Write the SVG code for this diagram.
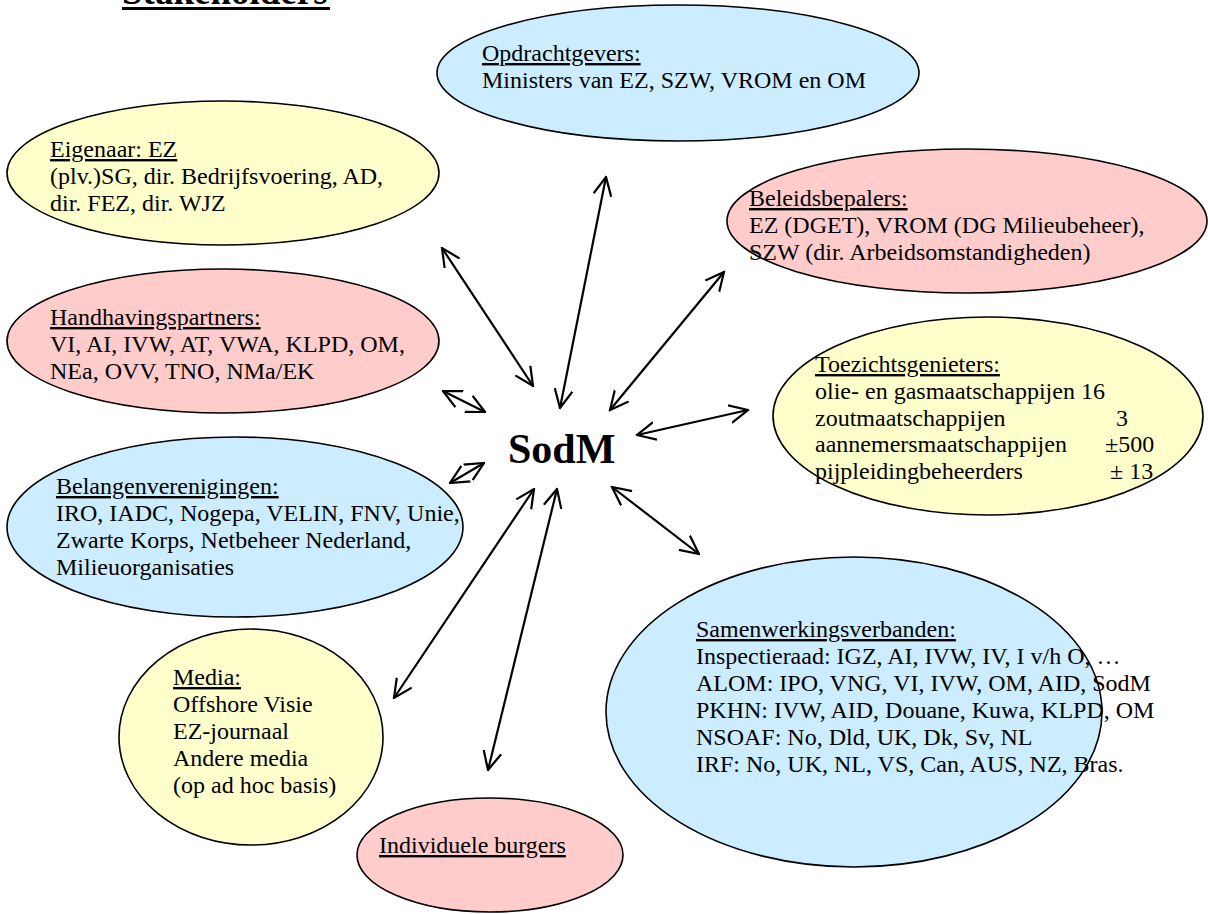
<svg xmlns="http://www.w3.org/2000/svg" width="1208" height="914" viewBox="0 0 1208 914">
<style>
text{font-family:"Liberation Serif","Times New Roman",serif;font-size:24px;fill:#000}
.u{text-decoration:underline}
.e{stroke:#000;stroke-width:1.6}
.blue{fill:#CCECFF}.yellow{fill:#FFFFCC}.pink{fill:#FFCCCC}
.c line{stroke:#000;stroke-width:2.2;marker-start:url(#ah);marker-end:url(#ah)}
</style>
<defs>
<marker id="ah" viewBox="0 0 20 20" refX="18.5" refY="10" markerWidth="20" markerHeight="20" markerUnits="userSpaceOnUse" orient="auto-start-reverse">
<path d="M0,1 L18.5,10 L0,19" fill="none" stroke="#000" stroke-width="2.2"/>
</marker>
</defs>
<rect width="1208" height="914" fill="#fff"/>
<g id="title">
<text x="122" y="4" style="font-size:37px;font-weight:bold">Stakeholders</text>
<rect x="122" y="7" width="208" height="3" fill="#000"/>
</g>
<g id="sodm"><text x="508" y="463" style="font-size:42px;font-weight:bold">SodM</text></g>
<g id="opdrachtgevers">
<ellipse class="e blue" cx="678" cy="73" rx="241" ry="68"/>
<text x="482" y="61" class="u">Opdrachtgevers:</text>
<text x="482" y="88">Ministers van EZ, SZW, VROM en OM</text>
</g>
<g id="eigenaar">
<ellipse class="e yellow" cx="223" cy="173" rx="216" ry="72"/>
<text x="50" y="157" class="u">Eigenaar: EZ</text>
<text x="50" y="184">(plv.)SG, dir. Bedrijfsvoering, AD,</text>
<text x="50" y="211">dir. FEZ, dir. WJZ</text>
</g>
<g id="handhavingspartners">
<ellipse class="e pink" cx="223" cy="341" rx="216" ry="72"/>
<text x="50" y="325" class="u">Handhavingspartners:</text>
<text x="50" y="352">VI, AI, IVW, AT, VWA, KLPD, OM,</text>
<text x="50" y="379">NEa, OVV, TNO, NMa/EK</text>
</g>
<g id="belangenverenigingen">
<ellipse class="e blue" cx="235" cy="527" rx="228" ry="90"/>
<text x="56" y="494" class="u">Belangenverenigingen:</text>
<text x="56" y="521">IRO, IADC, Nogepa, VELIN, FNV, Unie,</text>
<text x="56" y="548">Zwarte Korps, Netbeheer Nederland,</text>
<text x="56" y="575">Milieuorganisaties</text>
</g>
<g id="media">
<ellipse class="e yellow" cx="251" cy="737" rx="132" ry="108"/>
<text x="173" y="685" class="u">Media:</text>
<text x="173" y="712">Offshore Visie</text>
<text x="173" y="739">EZ-journaal</text>
<text x="173" y="766">Andere media</text>
<text x="173" y="793">(op ad hoc basis)</text>
</g>
<g id="burgers">
<ellipse class="e pink" cx="490" cy="855" rx="133" ry="57"/>
<text x="379" y="853" class="u">Individuele burgers</text>
</g>
<g id="beleidsbepalers">
<ellipse class="e pink" cx="967" cy="221" rx="240" ry="72"/>
<text x="749" y="206" class="u">Beleidsbepalers:</text>
<text x="749" y="233">EZ (DGET), VROM (DG Milieubeheer),</text>
<text x="749" y="260">SZW (dir. Arbeidsomstandigheden)</text>
</g>
<g id="toezichtsgenieters">
<ellipse class="e yellow" cx="988" cy="416" rx="215" ry="99"/>
<text x="815" y="372" class="u">Toezichtsgenieters:</text>
<text x="815" y="399">olie- en gasmaatschappijen 16</text>
<text x="815" y="426">zoutmaatschappijen<tspan x="1116">3</tspan></text>
<text x="815" y="452">aannemersmaatschappijen<tspan x="1105">±500</tspan></text>
<text x="815" y="479">pijpleidingbeheerders<tspan x="1110">± 13</tspan></text>
</g>
<g id="samenwerkingsverbanden">
<ellipse class="e blue" cx="854" cy="712" rx="248" ry="155"/>
<text x="696" y="637" class="u">Samenwerkingsverbanden:</text>
<text x="696" y="664">Inspectieraad: IGZ, AI, IVW, IV, I v/h O, …</text>
<text x="696" y="691">ALOM: IPO, VNG, VI, IVW, OM, AID, SodM</text>
<text x="696" y="718">PKHN: IVW, AID, Douane, Kuwa, KLPD, OM</text>
<text x="696" y="745">NSOAF: No, Dld, UK, Dk, Sv, NL</text>
<text x="696" y="772">IRF: No, UK, NL, VS, Can, AUS, NZ, Bras.</text>
</g>
<g id="connectors" class="c">
<line x1="606" y1="177" x2="560" y2="408"/>
<line x1="442" y1="248" x2="533" y2="386"/>
<line x1="724" y1="272" x2="610" y2="410"/>
<line x1="443" y1="391" x2="485" y2="412"/>
<line x1="637" y1="435" x2="748" y2="410"/>
<line x1="450" y1="483" x2="484" y2="463"/>
<line x1="534" y1="489" x2="394" y2="698"/>
<line x1="557" y1="489" x2="488" y2="770"/>
<line x1="612" y1="487" x2="699" y2="554"/>
</g>
</svg>
